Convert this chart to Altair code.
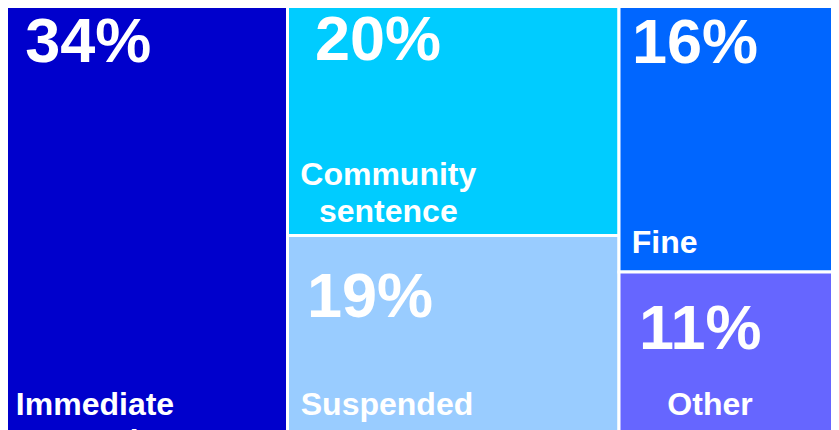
import altair as alt
import pandas as pd

# ---- data ----
categories = ["Immediate custody", "Community sentence", "Suspended sentence", "Fine", "Other"]
name_lines = ["Immediate\ncustody", "Community\nsentence", "Suspended\nsentence", "Fine", "Other"]
shares = [34, 20, 19, 16, 11]
column_of = [0, 1, 1, 2, 2]
colors = ["#0000CC", "#00CCFF", "#99CCFF", "#0066FF", "#6666FF"]

# ---- treemap layout (slice-and-dice: columns, then stacked rows) ----
col_tot = {}
for c, s in zip(column_of, shares):
    col_tot[c] = col_tot.get(c, 0) + s
col_x0 = {}
acc = 0
for c in sorted(col_tot):
    col_x0[c] = acc
    acc += col_tot[c]
rows = []
col_y = {c: 0.0 for c in col_tot}
for cat, nm, s, c, colr in zip(categories, name_lines, shares, column_of, colors):
    x0 = col_x0[c]
    x1 = x0 + col_tot[c]
    y0 = col_y[c]
    y1 = y0 + s / col_tot[c]
    col_y[c] = y1
    rows.append(dict(cat=cat, name=nm, pct=f"{s}%", x=x0, x2=x1, y=y0, y2=y1, color=colr))
df = pd.DataFrame(rows)

# visible window of the (cropped) treemap
W, H = 823, 422
x_dom = [9.5 / 8.5, 832.5 / 8.5]
y_dom = [8 / 459, 430 / 459]
xs = alt.Scale(domain=x_dom, nice=False, zero=False)
ys = alt.Scale(domain=y_dom, nice=False, zero=False, reverse=True)

rects = alt.Chart(df).mark_rect(clip=True, stroke="white", strokeWidth=3).encode(
    x=alt.X("x:Q", scale=xs, axis=None),
    x2="x2:Q",
    y=alt.Y("y:Q", scale=ys, axis=None),
    y2="y2:Q",
    color=alt.Color("color:N", scale=None, legend=None),
    tooltip=["cat:N", "pct:N"],
)

# label offsets from each rectangle's top-left corner (pixels)
pct_off = [(26.7, 61.5), (27.5, 60), (19.5, 82.1), (13, 62.5), (20, 76.5)]
name_off = [(96.5, 415, "center"), (100.8, 185, "center"), (99.5, 179.6, "center"),
            (12.7, 252.7, "left"), (91, 143, "center")]

FONT = "Liberation Sans"
layers = [rects]
for i in range(len(df)):
    one = df.iloc[[i]]
    dx, dy = pct_off[i]
    layers.append(
        alt.Chart(one).mark_text(
            clip=True, align="left", baseline="alphabetic", dx=dx, dy=dy,
            font=FONT, fontSize=63, fontWeight="bold", color="white",
        ).encode(x=alt.X("x:Q", scale=xs, axis=None), y=alt.Y("y:Q", scale=ys, axis=None), text="pct:N")
    )
    ndx, ndy, al = name_off[i]
    layers.append(
        alt.Chart(one).mark_text(
            clip=True, align=al, baseline="alphabetic", dx=ndx, dy=ndy,
            font=FONT, fontSize=32, fontWeight="bold", color="white",
            lineBreak="\n", lineHeight=36.7,
        ).encode(x=alt.X("x:Q", scale=xs, axis=None), y=alt.Y("y:Q", scale=ys, axis=None), text="name:N")
    )

chart = alt.layer(*layers).properties(width=W, height=H, padding=0).configure_view(stroke=None)

chart.save("out.html", embed_options={"renderer": "svg", "actions": False})
